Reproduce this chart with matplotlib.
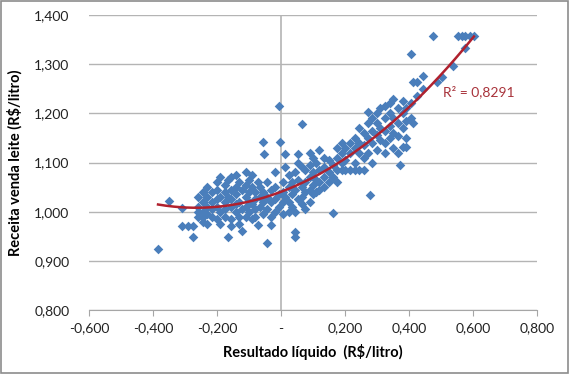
import numpy as np
import matplotlib
matplotlib.use("Agg")
import matplotlib.pyplot as plt
from matplotlib.patches import Rectangle

plt.rcParams['font.family'] = ['Lato', 'DejaVu Sans']

# resultado liquido (x) -> lista de receitas (y)
columns = [
    (-0.384, [0.924]),
    (-0.350, [1.022]),
    (-0.310, [1.008, 0.971]),
    (-0.290, [0.971]),
    (-0.275, [0.971, 0.949]),
    (-0.260, [1.030, 1.010, 0.990, 1.000]),
    (-0.245, [1.040, 1.020, 1.000, 0.990, 0.980]),
    (-0.230, [1.050, 1.030, 1.010, 0.995, 0.975]),
    (-0.215, [1.040, 1.020, 1.005, 0.990]),
    (-0.200, [1.060, 1.045, 1.025, 1.010, 0.985]),
    (-0.190, [1.070, 1.030, 1.000, 0.975]),
    (-0.175, [1.055, 1.040, 1.020, 1.005, 0.990]),
    (-0.166, [0.949, 1.065, 1.030]),
    (-0.155, [1.070, 1.045, 1.025, 1.010, 0.985, 0.970]),
    (-0.140, [1.075, 1.050, 1.035, 1.015, 1.000]),
    (-0.130, [1.060, 1.020, 0.990, 0.975]),
    (-0.122, [0.961, 1.045, 1.005]),
    (-0.110, [1.080, 1.055, 1.030, 1.010, 0.990]),
    (-0.100, [1.065, 1.040, 1.020, 1.000]),
    (-0.090, [1.075, 1.050, 1.015, 0.985]),
    (-0.080, [1.040, 1.025, 1.005, 0.990]),
    (-0.072, [0.973, 1.060]),
    (-0.065, [1.050, 1.030, 1.010]),
    (-0.056, [1.141, 1.040, 1.020, 0.995]),
    (-0.053, [1.118]),
    (-0.044, [0.937, 1.060, 1.030, 1.005]),
    (-0.031, [0.973, 1.045, 1.020, 0.990]),
    (-0.020, [1.080, 1.050, 1.025, 1.000]),
    (-0.006, [1.214, 1.035, 1.010]),
    (-0.003, [1.141]),
    (0.005, [1.060, 1.040, 1.020, 0.995]),
    (0.013, [1.118, 1.090, 1.030]),
    (0.025, [1.075, 1.050, 1.020, 1.000]),
    (0.035, [1.060, 1.035, 1.010]),
    (0.044, [0.959, 0.949, 1.080, 1.045, 1.000]),
    (0.053, [1.118, 1.100, 1.065, 1.025]),
    (0.066, [1.178, 1.090, 1.050, 1.030, 1.015]),
    (0.075, [1.085, 1.060, 1.040, 1.005]),
    (0.090, [1.120, 1.095, 1.070, 1.045, 1.020]),
    (0.100, [1.110, 1.080, 1.055, 1.035]),
    (0.110, [1.100, 1.065, 1.040]),
    (0.120, [1.125, 1.085, 1.060, 1.045]),
    (0.135, [1.110, 1.090, 1.070, 1.050]),
    (0.150, [1.105, 1.080, 1.060]),
    (0.163, [0.997, 1.095, 1.070]),
    (0.175, [1.130, 1.110, 1.085, 1.060]),
    (0.190, [1.140, 1.120, 1.100, 1.085]),
    (0.200, [1.130, 1.105, 1.085]),
    (0.215, [1.140, 1.120, 1.085]),
    (0.230, [1.150, 1.130, 1.100, 1.085]),
    (0.245, [1.170, 1.140, 1.120, 1.085]),
    (0.260, [1.160, 1.135, 1.110, 1.085]),
    (0.272, [1.202, 1.180, 1.150, 1.120]),
    (0.278, [1.033]),
    (0.285, [1.190, 1.165, 1.140, 1.100]),
    (0.300, [1.200, 1.180, 1.155, 1.125]),
    (0.310, [1.210, 1.170, 1.145]),
    (0.325, [1.214, 1.190, 1.165, 1.140, 1.120]),
    (0.340, [1.220, 1.200, 1.175, 1.150]),
    (0.350, [1.229, 1.190, 1.160, 1.130]),
    (0.366, [1.210, 1.180, 1.153, 1.120]),
    (0.372, [1.094]),
    (0.380, [1.225, 1.200, 1.170, 1.131]),
    (0.390, [1.210, 1.185, 1.150, 1.131]),
    (0.406, [1.320, 1.220, 1.190]),
    (0.413, [1.180, 1.263]),
    (0.425, [1.263, 1.235]),
    (0.444, [1.276, 1.250]),
    (0.475, [1.357]),
    (0.488, [1.263]),
    (0.503, [1.273]),
    (0.538, [1.296]),
    (0.553, [1.357]),
    (0.565, [1.357]),
    (0.575, [1.333, 1.357]),
    (0.590, [1.357]),
    (0.603, [1.357]),
]
x = np.array([cx for cx, ys in columns for _ in ys])
y = np.array([v for _, ys in columns for v in ys])

r2_label = "R² = 0,8291"
xticks = [-0.6, -0.4, -0.2, 0.0, 0.2, 0.4, 0.6, 0.8]
yticks = [0.8, 0.9, 1.0, 1.1, 1.2, 1.3, 1.4]

fig = plt.figure(figsize=(5.7, 3.74), dpi=100)
ax = fig.add_axes([0.156, 0.171, 0.786, 0.789])

ax.scatter(x, y, marker='D', s=24, color='#4a7ebb', zorder=3, linewidths=0)

# linha de tendencia polinomial de 2a ordem
coef = np.polyfit(x, y, 2)
xs = np.linspace(x.min(), x.max(), 200)
ax.plot(xs, np.polyval(coef, xs), color='#b0212e', lw=1.8, zorder=4)
ax.text(0.506, 1.243, r2_label, color='#a8323a', fontsize=10, va='center', ha='left')

ax.set_xlim(-0.6, 0.8)
ax.set_ylim(0.8, 1.4)
ax.set_xticks(xticks)
ax.set_yticks(yticks)
ax.set_xticklabels(["-" if v == 0 else f"{v:.3f}".replace('.', ',') for v in xticks])
ax.set_yticklabels([f"{v:.3f}".replace('.', ',') for v in yticks])

for s in ['top', 'right', 'left']:
    ax.spines[s].set_visible(False)
ax.spines['bottom'].set_color('#a6a6a6')
ax.axvline(0, color='#b4b4b4', lw=1.2, zorder=1)
ax.grid(axis='y', color='#b4b4b4', lw=1.0, zorder=0)
ax.set_axisbelow(True)

ax.tick_params(axis='y', length=0, pad=14, labelsize=10, colors='#222222')
ax.tick_params(axis='x', length=4, color='#a6a6a6', pad=5, labelsize=10, labelcolor='#222222')

ax.set_xlabel("Resultado líquido  (R$/litro)", fontsize=10.5, fontweight='bold', labelpad=7)
ax.set_ylabel("Receita venda leite (R$/litro)", fontsize=10.5, fontweight='bold', labelpad=8)

fig.patches.append(Rectangle((0.002, 0.003), 0.995, 0.994, transform=fig.transFigure,
                             fill=False, edgecolor='#8c8c8c', lw=1.2))

fig.savefig("out.png", dpi=100)
